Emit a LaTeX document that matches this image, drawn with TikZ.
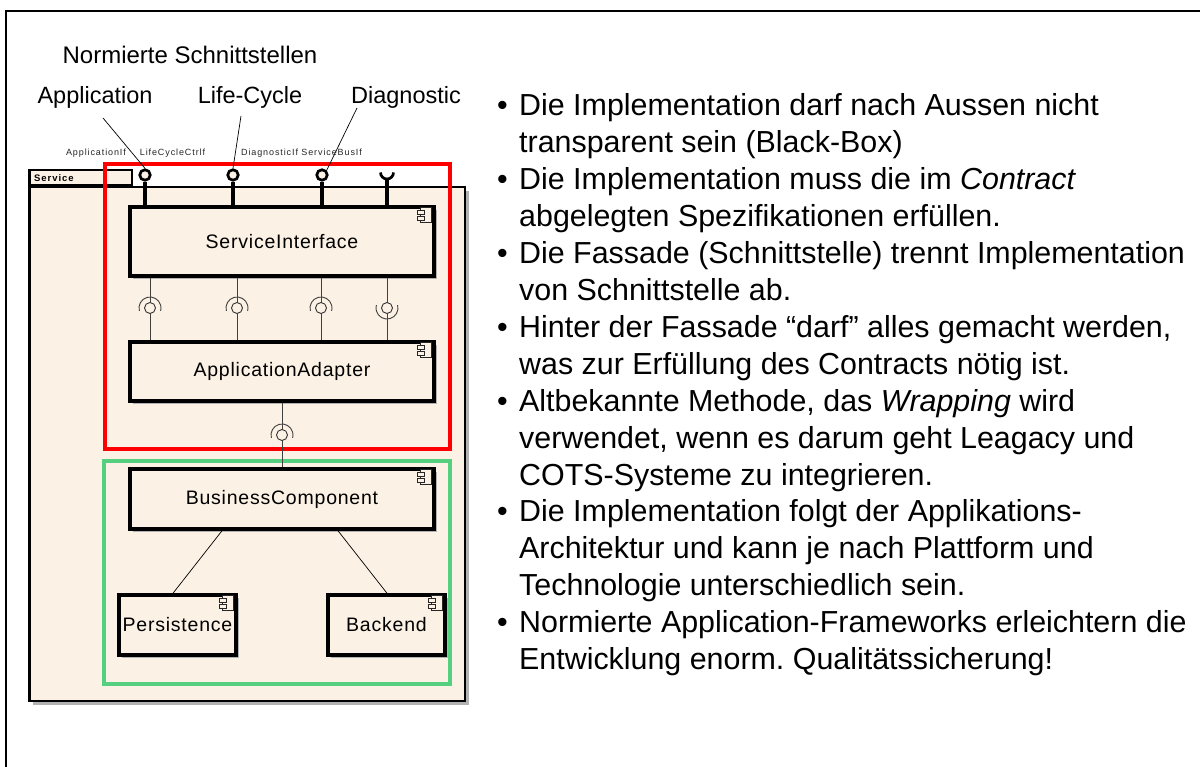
\documentclass[tikz,border=0pt]{standalone}
\usepackage{fontspec}
\setmainfont{Liberation Sans}
\newfontfamily\lsp[LetterSpace=4]{Liberation Sans}
\newfontfamily\tinysp[LetterSpace=10]{Liberation Sans}
\usetikzlibrary{shadows}
\definecolor{beige}{RGB}{251,241,228}
\definecolor{redbox}{RGB}{255,0,0}
\definecolor{greenbox}{RGB}{85,208,128}
\frenchspacing
\newcommand\compicon[1]{%
  \begin{scope}[shift={(#1.north east)}]
    \draw[black!85,line width=0.9pt,fill=beige] (-15.5,2) rectangle (-4,17.5);
    \draw[black!85,line width=0.9pt,fill=beige] (-18.5,5) rectangle (-11,9);
    \draw[black!85,line width=0.9pt,fill=beige] (-18.5,11) rectangle (-11,15);
  \end{scope}}
\begin{document}
\begin{tikzpicture}[x=1pt,y=-1pt,
  comp/.style={draw=black, line width=3.5pt, fill=beige, inner sep=0pt,
    font=\lsp\fontsize{19.5}{21}\selectfont,
    drop shadow={shadow xshift=3pt, shadow yshift=-3pt, fill=black!30, opacity=1}},
  pkg/.style={draw=black, line width=2.5pt, fill=beige, inner sep=0pt},
  lolli/.style={circle, draw=black, line width=2.7pt, fill=beige, minimum size=10.5pt, inner sep=0pt},
  ball/.style={circle, draw=black!80, line width=0.9pt, fill=beige, minimum size=11pt, inner sep=0pt},
  thinl/.style={draw=black!75, line width=0.9pt},
  stem/.style={draw=black, line width=4pt},
  pointer/.style={draw=black, line width=0.7pt},
  lbl/.style={inner sep=0pt, font=\fontsize{23.5}{25}\selectfont},
  tiny/.style={inner sep=0pt, font=\tinysp\fontsize{9}{10}\selectfont, text=black!85},
  btxt/.style={anchor=base west, inner sep=0pt, font=\fontsize{30.4}{36}\selectfont}
]
\useasboundingbox (0,0) rectangle (1200,767);
\fill[white] (0,0) rectangle (1200,767);
% frame
\draw[line width=1.5pt] (1200,11) -- (6,11) -- (6,767);

% package
\node[pkg, minimum width=435.5pt, minimum height=513.5pt,
  drop shadow={shadow xshift=4pt, shadow yshift=-4pt, fill=black!30, opacity=1}] (pkg) at (247,444) {};
\node[pkg, minimum width=102.5pt, minimum height=15.5pt] (tab) at (80.5,178) {};
\node[anchor=west, inner sep=0pt, font=\tinysp\bfseries\fontsize{9.5}{10}\selectfont] (tabtxt) at (34,178.5) {Service};

% red and green regions
\draw[redbox, line width=4pt] (105,164) rectangle (450,449);
\draw[greenbox, line width=3.5pt] (104,461) rectangle (450,684);

% components
\node[comp, minimum width=304pt, minimum height=69pt] (SI) at (282,241.5) {ServiceInterface};
\node[comp, minimum width=304pt, minimum height=59pt] (AA) at (282,371.5) {ApplicationAdapter};
\node[comp, minimum width=304pt, minimum height=60pt] (BC) at (282,499) {BusinessComponent};
\node[comp, minimum width=117pt, minimum height=60pt] (PE) at (177.5,625) {Persistence};
\node[comp, minimum width=117pt, minimum height=60pt] (BE) at (386.5,625) {Backend};
\compicon{SI}\compicon{AA}\compicon{BC}\compicon{PE}\compicon{BE}

% provided interfaces on top
\node[lolli] (i1) at (145,175) {};
\node[lolli] (i2) at (233,175) {};
\node[lolli] (i3) at (322,175) {};
\coordinate (s4) at (387,179);
\draw[stem] (i1.south) -- (i1.south |- SI.north);
\draw[stem] (i2.south) -- (i2.south |- SI.north);
\draw[stem] (i3.south) -- (i3.south |- SI.north);
\draw[stem] (s4) -- (s4 |- SI.north);
\draw[black, line width=2.7pt] ([shift={(180:6.5)}]387,172.5) arc[start angle=180, end angle=0, radius=6.5];

% assembly connectors SI -> AA
\node[ball] (b1) at (150,308) {};
\node[ball] (b2) at (237,308) {};
\node[ball] (b3) at (321,308) {};
\node[ball] (b4) at (387,308) {};
\foreach \b in {b1,b2,b3,b4}{
  \draw[thinl] (\b.north |- SI.south) -- (\b.north);
  \draw[thinl] (\b.south) -- (\b.south |- AA.north);
}
\foreach \b in {b1,b2,b3}{
  \draw[thinl] ([shift={(165:11)}]\b.center) arc[start angle=165, end angle=375, radius=11];
}
\draw[thinl] ([shift={(-15:11)}]b4.center) arc[start angle=-15, end angle=195, radius=11];

% AA -> BC
\node[ball] (b5) at (282,435) {};
\draw[thinl] (b5.north |- AA.south) -- (b5.north);
\draw[thinl] (b5.south) -- (b5.south |- BC.north);
\draw[thinl] ([shift={(165:11)}]b5.center) arc[start angle=165, end angle=375, radius=11];

% BC -> Persistence / Backend
\coordinate (bcl) at (222,531);
\coordinate (bcr) at (338,531);
\draw[black, line width=0.7pt] (BC.south -| bcl) -- (PE.north -| 173,0);
\draw[black, line width=0.7pt] (BC.south -| bcr) -- (BE.north -| 387,0);

% labels
\node[lbl, font=\fontsize{24}{26}\selectfont] (norm) at (190,55) {Normierte Schnittstellen};
\node[lbl] (lapp) at (95,97) {Application};
\node[lbl] (llc) at (250,97) {Life-Cycle};
\node[lbl] (ldiag) at (406,97) {Diagnostic};
\coordinate (pa) at (103,118);
\coordinate (pl) at (241,116);
\coordinate (pd) at (357,108);
\draw[pointer] (pa) -- (i1.north);
\draw[pointer] (pl) -- (i2.north);
\draw[pointer] (pd) -- (i3.north east);

\node[tiny] (tapp) at (96,153) {ApplicationIf};
\node[tiny] (tlc) at (172.5,153) {LifeCycleCtrlf};
\node[tiny] (tdiag) at (301.5,153) {DiagnosticIf ServiceBusIf};

% bullet text
\foreach \y/\t [count=\i] in {
  0/{Die Implementation darf nach Aussen nicht},
  1/{transparent sein (Black-Box)},
  2/{Die Implementation muss die im \textit{Contract}},
  3/{abgelegten Spezifikationen erfüllen.},
  4/{Die Fassade (Schnittstelle) trennt Implementation},
  5/{von Schnittstelle ab.},
  6/{Hinter der Fassade “darf” alles gemacht werden,},
  7/{was zur Erfüllung des Contracts nötig ist.},
  8/{Altbekannte Methode, das \textit{Wrapping} wird},
  9/{verwendet, wenn es darum geht Leagacy und},
  10/{COTS-Systeme zu integrieren.},
  11/{Die Implementation folgt der Applikations-},
  12/{Architektur und kann je nach Plattform und},
  13/{Technologie unterschiedlich sein.},
  14/{Normierte Application-Frameworks erleichtern die},
  15/{Entwicklung enorm. Qualitätssicherung!}}{
  \node[btxt] (line\i) at (519,116+36.9*\y) {\t};
}
\foreach \y [count=\i] in {0,2,4,6,8,11,14}{
  \node[btxt] (bul\i) at (497,116+36.9*\y) {•};
}
\end{tikzpicture}
\end{document}
